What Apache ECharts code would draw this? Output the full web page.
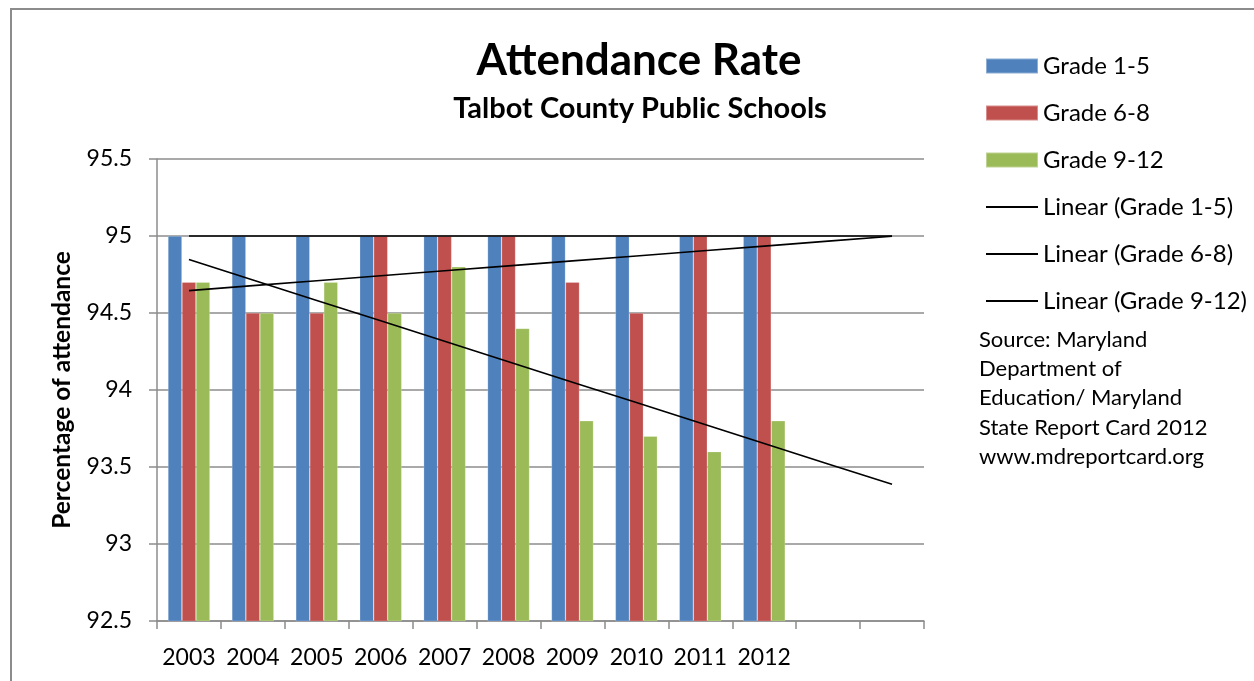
<!DOCTYPE html>
<html>
<head>
<meta charset="utf-8">
<script src="https://cdn.jsdelivr.net/npm/echarts@6/dist/echarts.min.js"></script>
<style>
  html, body { margin: 0; padding: 0; background: #fff; }
  #frame { position: absolute; left: 10px; top: 8px; width: 1260px; height: 700px; border-left: 2px solid #8c8c8c; border-top: 2px solid #8c8c8c; box-sizing: border-box; }
  #chart { position: absolute; left: 0; top: 0; width: 1254px; height: 681px; }
</style>
</head>
<body>
<div id="frame"></div>
<div id="chart"></div>
<script>
// Attendance rate by grade band, Talbot County Public Schools
const years = ['2003', '2004', '2005', '2006', '2007', '2008', '2009', '2010', '2011', '2012'];
// two empty slots after 2012 so the trendlines can run forward
const axisLabels = years.concat(['', '']);
const grade1to5 = [95, 95, 95, 95, 95, 95, 95, 95, 95, 95];
const grade6to8 = [94.7, 94.5, 94.5, 95, 95, 95, 94.7, 94.5, 95, 95];
const grade9to12 = [94.7, 94.5, 94.7, 94.5, 94.8, 94.4, 93.8, 93.7, 93.6, 93.8];
const yTicks = { min: 92.5, max: 95.5, step: 0.5 };
const sourceLines = ['Source: Maryland', 'Department of', 'Education/ Maryland', 'State Report Card 2012', 'www.mdreportcard.org'];

// least-squares trendline, evaluated at every category slot
function linearTrend(values, slots) {
  const n = values.length;
  let sx = 0, sy = 0;
  values.forEach((v, i) => { sx += i; sy += v; });
  const mx = sx / n, my = sy / n;
  let sxy = 0, sxx = 0;
  values.forEach((v, i) => { sxy += (i - mx) * (v - my); sxx += (i - mx) * (i - mx); });
  const slope = sxx ? sxy / sxx : 0;
  const out = [];
  for (let i = 0; i < slots; i++) out.push(+(my + slope * (i - mx)).toFixed(4));
  return out;
}

const FONT = 'Lato, "Open Sans", sans-serif';
const BLUE = '#4F81BD', RED = '#C0504D', GREEN = '#9BBB59';
const LINE_ICON = 'path://M0,0L52,0L52,2L0,2Z';

const chart = echarts.init(document.getElementById('chart'), null, { renderer: 'canvas' });

function barSeries(name, data, color) {
  return {
    name, type: 'bar', data, barWidth: 14, barGap: '0%',
    itemStyle: { color, borderColor: 'rgba(255,255,255,0.35)', borderWidth: 0.6 },
    z: 2
  };
}
function trendSeries(name, values) {
  return {
    name, type: 'line', data: linearTrend(values, axisLabels.length),
    symbol: 'none', showSymbol: false, silent: true, z: 5,
    lineStyle: { color: '#000', width: 1.6 },
    itemStyle: { color: '#000' }
  };
}

chart.setOption({
  animation: false,
  backgroundColor: 'transparent',
  textStyle: { fontFamily: FONT },
  title: [
    { text: 'Attendance Rate', left: 634, top: 34, textAlign: 'center',
      textStyle: { fontFamily: FONT, fontSize: 44, fontWeight: 'bold', color: '#000' } },
    { text: 'Talbot County Public Schools', left: 635, top: 89, textAlign: 'center',
      textStyle: { fontFamily: FONT, fontSize: 29, fontWeight: 'bold', color: '#000' } }
  ],
  legend: {
    orient: 'vertical', left: 985, top: 54, padding: 0,
    itemWidth: 52, itemHeight: 15, itemGap: 23, itemTextGap: 6,
    textStyle: { fontFamily: FONT, fontSize: 24, color: '#000', lineHeight: 24 },
    data: [
      { name: 'Grade 1-5', icon: 'rect' },
      { name: 'Grade 6-8', icon: 'rect' },
      { name: 'Grade 9-12', icon: 'rect' },
      { name: 'Linear (Grade 1-5)', icon: LINE_ICON },
      { name: 'Linear (Grade 6-8)', icon: LINE_ICON },
      { name: 'Linear (Grade 9-12)', icon: LINE_ICON }
    ]
  },
  grid: { left: 157, top: 159, right: 330, bottom: 60, containLabel: false },
  xAxis: {
    type: 'category', data: axisLabels, boundaryGap: true,
    axisLine: { lineStyle: { color: '#8c8c8c', width: 1.5 } },
    axisTick: { show: true, interval: 0, length: 8, lineStyle: { color: '#8c8c8c', width: 1.5 } },
    axisLabel: { interval: 0, margin: 25, fontFamily: FONT, fontSize: 23, color: '#000' }
  },
  yAxis: {
    type: 'value', min: yTicks.min, max: yTicks.max, interval: yTicks.step,
    name: 'Percentage of attendance', nameLocation: 'middle', nameGap: 82,
    nameTextStyle: { fontFamily: FONT, fontSize: 24.5, fontWeight: 'bold', color: '#000' },
    axisLine: { show: true, lineStyle: { color: '#8c8c8c', width: 1.5 } },
    axisTick: { show: true, length: 8, lineStyle: { color: '#8c8c8c', width: 1.5 } },
    axisLabel: { margin: 25, fontFamily: FONT, fontSize: 23, color: '#000' },
    splitLine: { show: true, lineStyle: { color: '#8c8c8c', width: 1.5 } }
  },
  series: [
    barSeries('Grade 1-5', grade1to5, BLUE),
    barSeries('Grade 6-8', grade6to8, RED),
    barSeries('Grade 9-12', grade9to12, GREEN),
    trendSeries('Linear (Grade 1-5)', grade1to5),
    trendSeries('Linear (Grade 6-8)', grade6to8),
    trendSeries('Linear (Grade 9-12)', grade9to12)
  ],
  graphic: [{
    type: 'text', left: 979, top: 325,
    style: { text: sourceLines.join('\n'), fontFamily: FONT, fontSize: 22, lineHeight: 29.3, fill: '#000' }
  }]
});
</script>
</body>
</html>
